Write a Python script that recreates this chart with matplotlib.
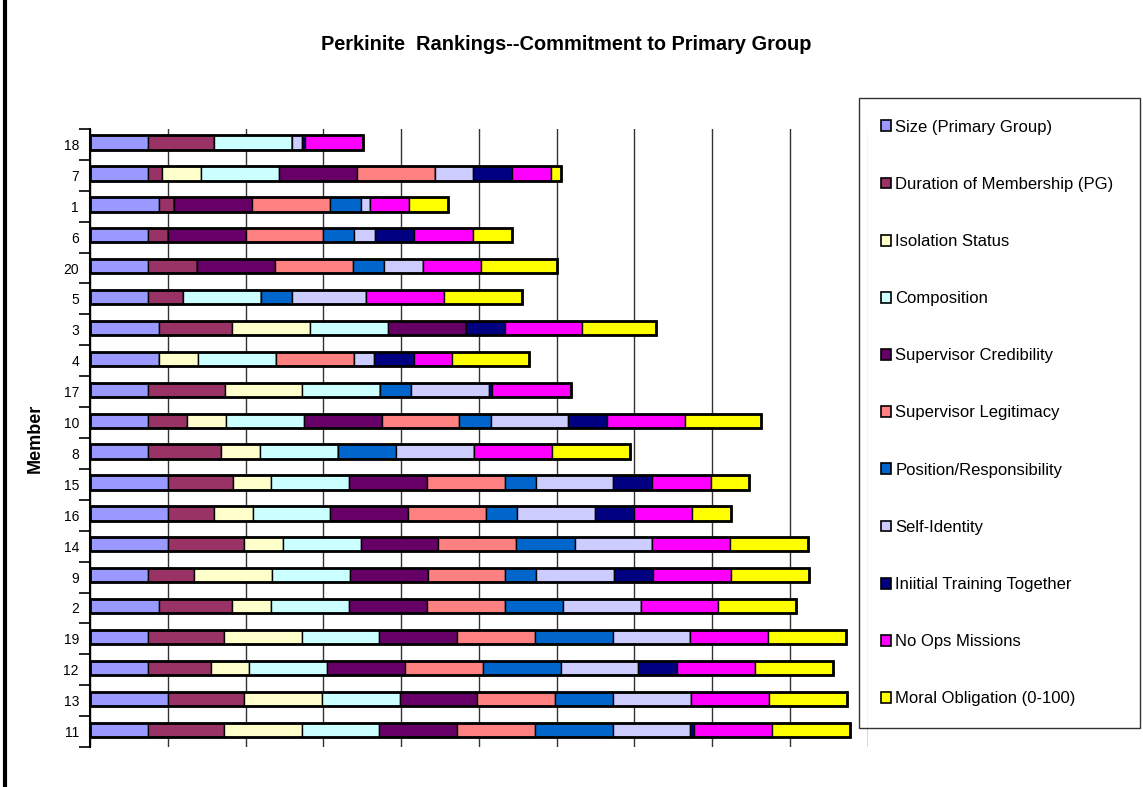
import matplotlib
matplotlib.use("Agg")
import matplotlib.pyplot as plt
from matplotlib.patches import Patch
from matplotlib.lines import Line2D
import numpy as np

plt.rcParams['font.family'] = ['Liberation Sans', 'DejaVu Sans']

members = ['18', '7', '1', '6', '20', '5', '3', '4', '17', '10',
           '8', '15', '16', '14', '9', '2', '19', '12', '13', '11']

series_names = ['Size (Primary Group)', 'Duration of Membership (PG)', 'Isolation Status',
                'Composition', 'Supervisor Credibility', 'Supervisor Legitimacy',
                'Position/Responsibility', 'Self-Identity', 'Iniitial Training Together',
                'No Ops Missions', 'Moral Obligation (0-100)']

colors = ['#9999FF', '#993366', '#FFFFCC', '#CCFFFF', '#660066', '#FF8080',
          '#0066CC', '#CCCCFF', '#000080', '#FF00FF', '#FFFF00']

# values per series, in member order above
size_pg      = [7.5, 7.5, 8.9, 7.5, 7.5, 7.5, 8.9, 8.9, 7.5, 7.5, 7.5, 10, 10, 10, 7.5, 8.9, 7.5, 7.5, 10, 7.5]
duration     = [8.5, 1.8, 1.9, 2.5, 6.3, 4.5, 9.4, 0, 9.8, 5, 9.4, 8.4, 6, 9.8, 5.9, 9.4, 9.7, 8, 9.8, 9.7]
isolation    = [0, 5, 0, 0, 0, 0, 10, 5, 10, 5, 5, 4.9, 4.9, 5, 10, 5, 10, 5, 10, 10]
composition  = [10, 10, 0, 0, 0, 10, 10, 10, 10, 10, 10, 10, 10, 10, 10, 10, 10, 10, 10, 10]
sup_cred     = [0, 10, 10, 10, 10, 0, 10, 0, 0, 10, 0, 10, 10, 10, 10, 10, 10, 10, 10, 10]
sup_legit    = [0, 10, 10, 10, 10, 0, 0, 10, 0, 10, 0, 10, 10, 10, 10, 10, 10, 10, 10, 10]
position     = [0, 0, 4, 4, 4, 4, 0, 0, 4, 4, 7.5, 4, 4, 7.5, 4, 7.5, 10, 10, 7.5, 10]
self_id      = [1.2, 5, 1.2, 2.7, 5, 9.5, 0, 2.6, 10, 10, 10, 10, 10, 10, 10, 10, 10, 10, 10, 10]
training     = [0.4, 5, 0, 5, 0, 0, 5, 5.1, 0.4, 5, 0, 5, 5, 0, 5, 0, 0, 5, 0, 0.5]
no_ops       = [7.5, 5, 5, 7.5, 7.5, 10, 10, 4.9, 10.2, 10, 10, 7.5, 7.5, 10, 10, 10, 10, 10, 10, 10]
moral        = [0, 1.2, 5, 5, 9.8, 10, 9.5, 10, 0, 9.8, 10, 5, 5, 10, 10, 10, 10, 10, 10, 10]

series = [size_pg, duration, isolation, composition, sup_cred, sup_legit,
          position, self_id, training, no_ops, moral]

fig = plt.figure(figsize=(11.43, 7.87), dpi=100)
ax = fig.add_axes([90/1143, 40/787, (867.7-90)/1143, (747-129)/787])

y = np.arange(len(members)) - 0.06
h = 0.46
left = np.zeros(len(members))
for vals, name, col in zip(series, series_names, colors):
    v = np.array(vals, dtype=float)
    ax.barh(y, v, left=left, height=h, color=col, edgecolor='black',
            linewidth=1.0, label=name, zorder=3)
    left += v
# outer outline of each whole bar
ax.barh(y, left, height=h, left=0, fill=False, edgecolor='black', linewidth=2.0, zorder=4)

ax.set_xlim(0, 100)
ax.set_ylim(len(members) - 0.5, -0.5)
ax.set_xticks(np.arange(0, 101, 10))
ax.tick_params(axis='x', length=0, labelbottom=False)
ax.grid(axis='x', color='#333333', linewidth=1.0, zorder=0)

ax.set_yticks(np.arange(len(members)))
ax.set_yticklabels(members, fontsize=10)
ax.set_yticks(np.arange(len(members) + 1) - 0.5, minor=True)
ax.tick_params(axis='y', which='major', length=0, pad=8)
ax.tick_params(axis='y', which='minor', length=8, width=1.2, direction='out')
for s in ['top', 'right', 'bottom']:
    ax.spines[s].set_visible(False)
ax.spines['left'].set_linewidth(1.5)
ax.set_axisbelow(True)

ax.set_ylabel('Member', fontsize=13, fontweight='bold', labelpad=14)

fig.text(566/1143, 1 - 44/787, 'Perkinite  Rankings--Commitment to Primary Group',
         ha='center', va='center', fontsize=14.4, fontweight='bold')

handles = [Patch(facecolor=c, edgecolor='black', linewidth=1.2) for c in colors]
leg = fig.legend(handles, series_names, loc='upper left',
                 bbox_to_anchor=(859/1143, 1 - 98/787, (1140-859)/1143, 0.0),
                 mode='expand', fontsize=12, frameon=True, fancybox=False,
                 edgecolor='black', handlelength=0.62, handleheight=0.62,
                 handletextpad=0.25, labelspacing=2.53, borderpad=1.3,
                 borderaxespad=0.0)
leg.get_frame().set_linewidth(1.0)

fig.add_artist(Line2D([5/1143, 5/1143], [0, 1], color='black', linewidth=3,
                      transform=fig.transFigure))

fig.savefig('out.png', dpi=100)
